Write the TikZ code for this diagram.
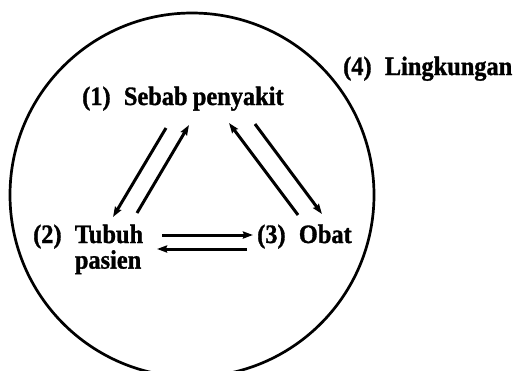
\documentclass[tikz,border=0pt]{standalone}
\usepackage{fontspec}
\setmainfont{Liberation Serif}
\newfontfamily\figfont{Liberation Serif}[FakeStretch=0.92,FakeBold=1.2]
\usetikzlibrary{arrows.meta}
\begin{document}
\begin{tikzpicture}[x=1pt,y=-1pt,
  lbl/.style={anchor=base west,inner sep=0pt,font=\fontsize{26.5}{24}\figfont\bfseries},
  conn/.style={line width=3pt,-{Stealth[length=10pt,width=7pt,inset=1pt]}},
  ring/.style={line width=2.7pt}]
\useasboundingbox (0,0) rectangle (518,370);
\begin{scope}
\clip (0,0) rectangle (518,370);
\draw[ring] (192,195) circle[radius=182];
\end{scope}
\node[lbl] (sebab) at (82,105) {(1)\hspace{0.5em}Sebab\hspace{0.2em}penyakit};
\node[lbl] (ling) at (343,75) {(4)\hspace{0.5em}Lingkungan};
\node[lbl] (tubuh) at (33,243) {(2)\hspace{0.5em}\begin{tabular}[t]{@{}l@{}}Tubuh\\pasien\end{tabular}};
\node[lbl] (obat) at (257,243) {(3)\hspace{0.5em}Obat};
% arrow endpoints
\coordinate (a1) at (166,128); \coordinate (a2) at (113,217);
\coordinate (b1) at (137,213); \coordinate (b2) at (189,125);
\coordinate (c1) at (298,215); \coordinate (c2) at (229,123);
\coordinate (d1) at (255,124); \coordinate (d2) at (322,214);
\coordinate (e1) at (162,235); \coordinate (e2) at (253,235);
\coordinate (f1) at (247,249); \coordinate (f2) at (157,249);
\draw[conn] (a1) -- (a2);
\draw[conn] (b1) -- (b2);
\draw[conn] (c1) -- (c2);
\draw[conn] (d1) -- (d2);
\draw[conn] (e1) -- (e2);
\draw[conn] (f1) -- (f2);
\end{tikzpicture}
\end{document}
